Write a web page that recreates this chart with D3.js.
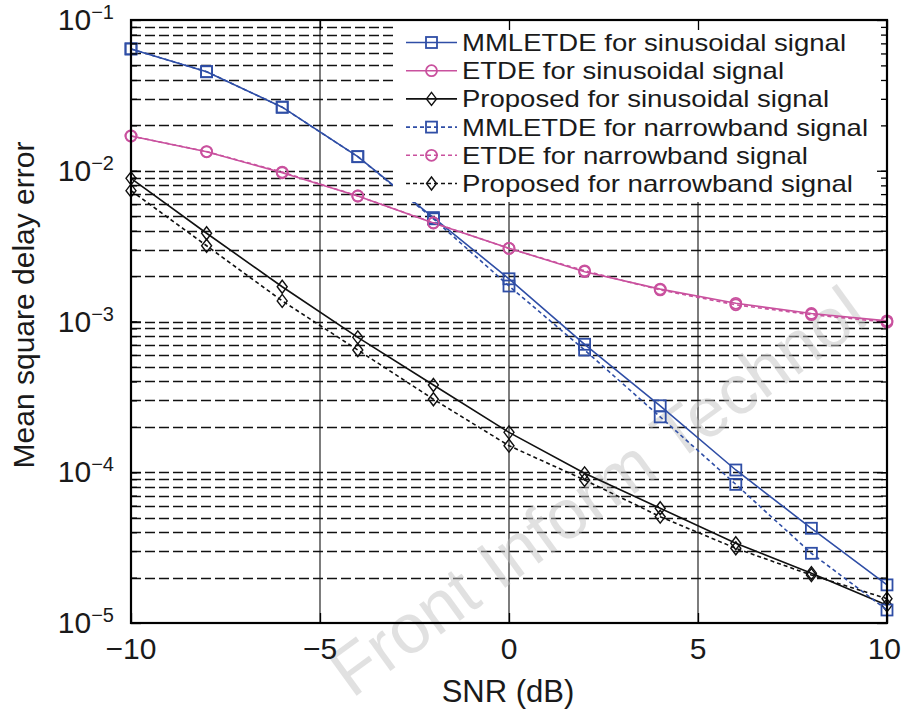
<!DOCTYPE html>
<html>
<head>
<meta charset="utf-8">
<script src="https://cdn.jsdelivr.net/npm/d3@7"></script>
<style>
  html, body { margin: 0; padding: 0; background: #fff; }
  svg { display: block; font-family: "Liberation Sans", Arial, Helvetica, sans-serif; }
</style>
</head>
<body>
<svg id="chart" width="902" height="711"></svg>
<script>
// ---------------- DATA ----------------
const snr = [-10, -8, -6, -4, -2, 0, 2, 4, 6, 8, 10];

const mmletdeSin  = [0.0643, 0.0454, 0.0264, 0.0124, 0.00489, 0.00192, 7.06e-4, 2.76e-4, 1.035e-4, 4.25e-5, 1.79e-5];
const etdeSin     = [0.0170, 0.01336, 0.0097, 0.0068, 0.0045, 0.00306, 0.00214, 0.00164, 0.00132, 0.00113, 0.00101];
const propSin     = [0.00891, 0.00385, 0.00170, 7.85e-4, 3.79e-4, 1.84e-4, 9.84e-5, 5.77e-5, 3.38e-5, 2.14e-5, 1.31e-5];

const mmletdeNar  = [0.0643, 0.0454, 0.0264, 0.0124, 0.00480, 0.00172, 6.47e-4, 2.33e-4, 8.31e-5, 2.90e-5, 1.22e-5];
const etdeNar     = [0.0170, 0.01340, 0.0098, 0.0068, 0.00452, 0.00305, 0.00217, 0.00162, 0.00129, 0.00111, 0.00099];
const propNar     = [0.00738, 0.00318, 0.00137, 6.47e-4, 3.05e-4, 1.50e-4, 8.89e-5, 5.07e-5, 3.13e-5, 2.08e-5, 1.45e-5];

const legendLabels = [
  "MMLETDE for sinusoidal signal",
  "ETDE for sinusoidal signal",
  "Proposed for sinusoidal signal",
  "MMLETDE for narrowband signal",
  "ETDE for narrowband signal",
  "Proposed for narrowband signal"
];
const xTicks = [-10, -5, 0, 5, 10];
const xTickLabels = ["\u221210", "\u22125", "0", "5", "10"];
const yTickExps = [-1, -2, -3, -4, -5];
const xLabel = "SNR (dB)";
const yLabel = "Mean square delay error";
const watermark = "Front Inform Technol";

// ---------------- LAYOUT ----------------
const L = 131, R = 887, T = 20, B = 623;
const BLUE = "#2f4ea6", MAG = "#c9519e", BLK = "#111";

const svg = d3.select("#chart");
const x = d3.scaleLinear().domain([-10, 10]).range([L, R]);
const y = d3.scaleLog().domain([1e-5, 1e-1]).range([B, T]);

const series = [
  { vals: mmletdeSin, color: BLUE, dash: null,  marker: "square" },
  { vals: etdeSin,    color: MAG,  dash: null,  marker: "circle" },
  { vals: propSin,    color: BLK,  dash: null,  marker: "diamond" },
  { vals: mmletdeNar, color: BLUE, dash: "4,3", marker: "square" },
  { vals: etdeNar,    color: MAG,  dash: "4,3", marker: "circle" },
  { vals: propNar,    color: BLK,  dash: "4,3", marker: "diamond" }
];

// ---------------- GRID ----------------
const minorVals = [];
for (let k = -5; k <= -2; k++) for (let m = 1; m <= 9; m++) {
  const v = m * Math.pow(10, k);
  if (v > 1e-5 && v < 1e-1) minorVals.push(v);
}
svg.append("g").selectAll("line").data(minorVals).join("line")
  .attr("x1", L).attr("x2", R)
  .attr("y1", d => Math.round(y(d)) + 0.5).attr("y2", d => Math.round(y(d)) + 0.5)
  .attr("stroke", "#111").attr("stroke-width", 1.5)
  .attr("stroke-dasharray", "10,4");

svg.append("g").selectAll("line").data([-5, 0, 5]).join("line")
  .attr("x1", d => x(d)).attr("x2", d => x(d))
  .attr("y1", T).attr("y2", B)
  .attr("stroke", "#111").attr("stroke-width", 1.1);

// ---------------- WATERMARK ----------------
svg.append("text")
  .attr("transform", "translate(352,699) rotate(-36)")
  .attr("font-size", 70).attr("fill", "#c4c4c4").attr("fill-opacity", 0.5)
  .text(watermark);

// ---------------- SERIES ----------------
const line = d3.line().x((d, i) => x(snr[i])).y(d => y(d));

function drawMarker(g, type, cx, cy, color) {
  if (type === "square") {
    g.append("rect").attr("x", cx - 5.5).attr("y", cy - 5.5).attr("width", 11).attr("height", 11)
      .attr("fill", "none").attr("stroke", color).attr("stroke-width", 1.8);
  } else if (type === "circle") {
    g.append("circle").attr("cx", cx).attr("cy", cy).attr("r", 5.5)
      .attr("fill", "none").attr("stroke", color).attr("stroke-width", 1.8);
  } else {
    g.append("path").attr("d", `M${cx},${cy - 6.5}L${cx + 5},${cy}L${cx},${cy + 6.5}L${cx - 5},${cy}Z`)
      .attr("fill", "none").attr("stroke", color).attr("stroke-width", 1.4);
  }
}

const plotG = svg.append("g");
series.forEach(s => {
  plotG.append("path").attr("d", line(s.vals))
    .attr("fill", "none").attr("stroke", s.color).attr("stroke-width", 1.6)
    .attr("stroke-dasharray", s.dash);
  s.vals.forEach((v, i) => drawMarker(plotG, s.marker, x(snr[i]), y(v), s.color));
});

// ---------------- LEGEND ----------------
svg.append("rect").attr("x", 393).attr("y", 21).attr("width", R - 393).attr("height", 181).attr("fill", "#fff");
const legendWidths = [384, 322, 367, 406, 346, 391];
series.forEach((s, i) => {
  const cy = 42.5 + i * 28.2;
  svg.append("line").attr("x1", 406).attr("x2", 457).attr("y1", cy).attr("y2", cy)
    .attr("stroke", s.color).attr("stroke-width", 1.6).attr("stroke-dasharray", s.dash);
  drawMarker(svg, s.marker, 431.5, cy, s.color);
  svg.append("text").attr("x", 462).attr("y", cy + 8.5)
    .attr("font-size", 24).attr("fill", "#1a1a1a")
    .attr("textLength", legendWidths[i]).attr("lengthAdjust", "spacingAndGlyphs")
    .text(legendLabels[i]);
});

// ---------------- AXES ----------------
const majorVals = yTickExps.map(e => Math.pow(10, e));
const axG = svg.append("g");
function styleAxis(g) {
  g.select(".domain").remove();
  g.selectAll(".tick line").attr("stroke", "#000").attr("stroke-width", 1.3);
  g.selectAll(".tick text").remove();
}
axG.append("g").attr("transform", `translate(${L},0)`)
  .call(d3.axisLeft(y).tickValues(majorVals).tickSize(-10)).call(styleAxis);
axG.append("g").attr("transform", `translate(${L},0)`)
  .call(d3.axisLeft(y).tickValues(minorVals).tickSize(-6)).call(styleAxis);
axG.append("g").attr("transform", `translate(${R},0)`)
  .call(d3.axisRight(y).tickValues(majorVals).tickSize(-10)).call(styleAxis);
axG.append("g").attr("transform", `translate(${R},0)`)
  .call(d3.axisRight(y).tickValues(minorVals).tickSize(-6)).call(styleAxis);
axG.append("g").attr("transform", `translate(0,${B})`)
  .call(d3.axisBottom(x).tickValues(xTicks).tickSize(-10)).call(styleAxis);
axG.append("g").attr("transform", `translate(0,${T})`)
  .call(d3.axisTop(x).tickValues(xTicks).tickSize(-10)).call(styleAxis);

svg.append("rect").attr("x", L).attr("y", T).attr("width", R - L).attr("height", B - T)
  .attr("fill", "none").attr("stroke", "#000").attr("stroke-width", 2.2);

// tick labels
svg.append("g").selectAll("text").data(xTicks).join("text")
  .attr("x", d => d === 10 ? 901 : x(d)).attr("y", 659)
  .attr("text-anchor", d => d === 10 ? "end" : "middle")
  .attr("font-size", 30).attr("fill", "#1a1a1a")
  .text((d, i) => xTickLabels[i]);

const yl = svg.append("g").selectAll("text").data(yTickExps).join("text")
  .attr("x", 114).attr("y", d => y(Math.pow(10, d)) + 10)
  .attr("text-anchor", "end").attr("font-size", 30).attr("fill", "#1a1a1a");
yl.append("tspan").text("10");
yl.append("tspan").attr("font-size", 20).attr("dy", -11).text(d => "\u2212" + (-d));

// axis labels
svg.append("text").attr("x", (L + R) / 2 - 1).attr("y", 702)
  .attr("text-anchor", "middle").attr("font-size", 31).attr("fill", "#1a1a1a").text(xLabel);
svg.append("text").attr("transform", `translate(34,305) rotate(-90)`)
  .attr("text-anchor", "middle").attr("font-size", 30).attr("fill", "#1a1a1a").text(yLabel);
</script>
</body>
</html>
